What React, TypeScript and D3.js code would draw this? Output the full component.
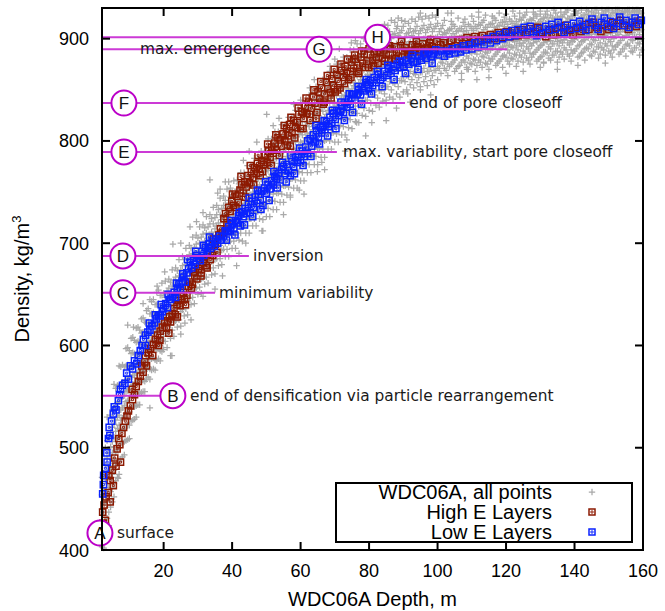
import React from 'react';
import * as d3 from 'd3';

const W = 665;
const H = 611;

// axis ticks
const xTicks = [20, 40, 60, 80, 100, 120, 140, 160];
const yTicks = [400, 500, 600, 700, 800, 900];

// WDC06A, all points: [depth m, densities kg/m3 at that depth]
const grayColumns: [number, number[]][] = [
  [2, [403, 408, 419, 429, 440, 454, 471]],
  [2.5, [402, 415, 426, 437, 447, 460, 475]],
  [3, [410, 425, 437, 448, 458, 469, 483, 500]],
  [3.5, [417, 431, 444, 455, 465, 476, 490, 507]],
  [4, [424, 437, 450, 461, 472, 482, 495, 510]],
  [4.5, [442, 457, 469, 480, 490, 501, 515, 532]],
  [5, [447, 461, 474, 485, 495, 506, 520, 537]],
  [5.5, [452, 465, 478, 489, 500, 510, 523, 538]],
  [6, [468, 483, 495, 506, 516, 527, 541, 558]],
  [6.5, [471, 485, 498, 509, 519, 530, 544, 561]],
  [7, [474, 487, 500, 511, 522, 532, 545, 560]],
  [7.5, [489, 504, 516, 527, 537, 548, 562, 579]],
  [8, [491, 505, 518, 529, 539, 550, 564, 581]],
  [8.5, [493, 506, 519, 530, 541, 551, 564, 579]],
  [9, [507, 522, 534, 545, 555, 566, 580, 597]],
  [9.5, [508, 522, 535, 546, 556, 567, 581, 598]],
  [10, [509, 522, 535, 546, 557, 567, 580, 595]],
  [10.5, [526, 540, 550, 560, 569, 579, 592, 607]],
  [11, [527, 540, 552, 562, 571, 581, 593, 608]],
  [11.5, [528, 540, 551, 561, 571, 580, 592, 605]],
  [12, [541, 554, 564, 573, 582, 591, 603, 617]],
  [12.5, [542, 554, 565, 574, 582, 592, 604, 618]],
  [13, [542, 553, 564, 574, 583, 591, 603, 615]],
  [13.5, [554, 566, 576, 584, 592, 601, 612, 626]],
  [14, [555, 566, 576, 585, 593, 602, 613, 627]],
  [14.5, [555, 565, 575, 584, 593, 601, 611, 623]],
  [15, [567, 578, 587, 596, 603, 611, 622, 634]],
  [15.5, [569, 579, 589, 597, 604, 612, 623, 636]],
  [16, [567, 577, 587, 595, 603, 610, 620, 631]],
  [16.5, [576, 587, 596, 605, 612, 620, 631, 643]],
  [17, [577, 588, 598, 606, 613, 622, 632, 645]],
  [17.5, [576, 586, 596, 604, 612, 619, 629, 640]],
  [18, [585, 596, 605, 614, 621, 629, 640, 652]],
  [18.5, [587, 597, 607, 615, 623, 631, 641, 654]],
  [19, [585, 595, 605, 613, 621, 628, 638, 649]],
  [19.5, [594, 605, 614, 623, 630, 638, 649, 661]],
  [20, [596, 609, 619, 629, 638, 651]],
  [20.5, [604, 617, 627, 636, 647, 663]],
  [21, [598, 612, 623, 632, 642, 653]],
  [21.5, [613, 626, 635, 645, 656, 665]],
  [22, [590, 607, 620, 630, 640, 649, 662]],
  [22.5, [615, 628, 638, 647, 658, 674]],
  [23, [609, 623, 634, 643, 653, 664]],
  [23.5, [624, 637, 646, 656, 667, 676]],
  [24, [618, 631, 641, 651, 660, 673]],
  [24.5, [625, 638, 648, 657, 668, 684]],
  [25, [619, 633, 644, 653, 663, 674, 700]],
  [25.5, [635, 648, 657, 667, 678, 687]],
  [26, [629, 642, 652, 662, 671, 684]],
  [26.5, [636, 649, 659, 668, 679, 695]],
  [27, [630, 644, 655, 664, 674, 685]],
  [27.5, [646, 659, 668, 678, 689, 698]],
  [28, [625, 640, 653, 663, 673, 682, 695]],
  [28.5, [647, 660, 670, 679, 690, 706]],
  [29, [641, 655, 666, 675, 685, 696]],
  [29.5, [656, 669, 678, 688, 699, 708]],
  [30, [650, 663, 673, 683, 692, 705]],
  [30.5, [657, 670, 680, 689, 700, 716]],
  [31, [651, 665, 676, 685, 695, 706]],
  [31.5, [666, 679, 688, 698, 709, 718, 730]],
  [32, [660, 673, 683, 693, 702, 715]],
  [32.5, [667, 680, 690, 699, 710, 726]],
  [33, [661, 675, 686, 695, 705, 716]],
  [33.5, [676, 689, 698, 708, 719, 728]],
  [34, [669, 682, 692, 702, 711, 724]],
  [34.5, [676, 689, 699, 708, 719, 735]],
  [35, [655, 670, 684, 695, 704, 714, 725]],
  [35.5, [685, 698, 707, 717, 728, 737]],
  [36, [678, 691, 701, 711, 720, 733]],
  [36.5, [685, 698, 708, 717, 728, 744]],
  [37, [679, 693, 704, 713, 723, 734]],
  [37.5, [694, 707, 716, 726, 737, 746]],
  [38, [687, 700, 710, 720, 729, 742, 760]],
  [38.5, [694, 707, 717, 726, 737, 753]],
  [39, [687, 701, 712, 721, 731, 742]],
  [39.5, [702, 715, 724, 734, 745, 754]],
  [40, [695, 708, 718, 728, 737, 750]],
  [40.5, [702, 715, 725, 734, 745, 761]],
  [41, [695, 709, 720, 729, 739, 750]],
  [41.5, [710, 723, 732, 742, 753, 762]],
  [42, [690, 703, 716, 726, 736, 745, 758]],
  [42.5, [710, 723, 733, 742, 753, 769]],
  [43, [702, 716, 727, 736, 746, 757]],
  [43.5, [717, 730, 739, 749, 760, 769]],
  [44, [710, 723, 733, 743, 752, 765]],
  [44.5, [717, 730, 740, 749, 760, 776]],
  [45, [710, 724, 735, 744, 754, 765, 790]],
  [45.5, [724, 737, 746, 756, 767, 776]],
  [46, [717, 730, 740, 750, 759, 772]],
  [46.5, [724, 737, 747, 756, 767, 783]],
  [47, [717, 731, 742, 751, 761, 772]],
  [47.5, [731, 744, 753, 763, 774, 783]],
  [48, [724, 737, 747, 757, 766, 779]],
  [48.5, [731, 744, 754, 763, 774, 790]],
  [49, [712, 723, 737, 748, 757, 767, 778]],
  [49.5, [738, 751, 760, 770, 781, 790]],
  [50, [726, 741, 753, 764, 775, 790]],
  [50.5, [734, 749, 761, 771, 784, 802]],
  [51, [726, 742, 754, 765, 776, 789]],
  [51.5, [742, 757, 767, 779, 791, 802]],
  [52, [733, 748, 760, 771, 782, 797, 815]],
  [52.5, [741, 756, 768, 778, 791, 809]],
  [53, [733, 749, 761, 772, 783, 796]],
  [53.5, [749, 764, 774, 786, 798, 809]],
  [54, [740, 755, 767, 778, 789, 804]],
  [54.5, [748, 763, 775, 785, 798, 816]],
  [55, [728, 740, 756, 768, 779, 790, 803]],
  [55.5, [756, 771, 781, 793, 805, 816]],
  [56, [747, 762, 774, 785, 796, 811]],
  [56.5, [755, 770, 782, 792, 805, 823]],
  [57, [747, 763, 775, 786, 797, 810]],
  [57.5, [763, 778, 788, 800, 812, 823]],
  [58, [754, 769, 781, 792, 803, 818, 836]],
  [58.5, [762, 777, 789, 799, 812, 830]],
  [59, [754, 770, 782, 793, 804, 817]],
  [59.5, [770, 785, 795, 807, 819, 830]],
  [60, [761, 776, 788, 799, 810, 825]],
  [60.5, [769, 784, 796, 806, 819, 837]],
  [61, [748, 761, 777, 789, 800, 811, 824]],
  [61.5, [778, 793, 803, 815, 827, 838]],
  [62, [769, 784, 796, 807, 818, 833]],
  [62.5, [777, 792, 804, 814, 827, 845]],
  [63, [769, 785, 797, 808, 819, 832]],
  [63.5, [786, 801, 811, 823, 835, 846]],
  [64, [777, 792, 804, 815, 826, 841, 860]],
  [64.5, [785, 800, 812, 822, 835, 853]],
  [65, [777, 793, 805, 816, 827, 840]],
  [65.5, [793, 808, 818, 830, 842, 853]],
  [66, [784, 799, 811, 822, 833, 848]],
  [66.5, [792, 807, 819, 829, 842, 860]],
  [67, [772, 784, 800, 812, 823, 834, 847]],
  [67.5, [801, 816, 826, 838, 850, 861]],
  [68, [792, 807, 819, 830, 841, 856]],
  [68.5, [800, 815, 827, 837, 850, 868]],
  [69, [792, 808, 820, 831, 842, 855]],
  [69.5, [808, 823, 833, 845, 857, 868]],
  [70, [799, 814, 826, 837, 848, 863, 880]],
  [70.5, [807, 822, 834, 844, 857, 875]],
  [71, [799, 815, 827, 838, 849, 862]],
  [71.5, [815, 830, 840, 852, 864, 875]],
  [72, [806, 821, 833, 844, 855, 870]],
  [72.5, [814, 829, 841, 851, 864, 882]],
  [73, [790, 806, 822, 834, 845, 856, 869]],
  [73.5, [822, 837, 847, 859, 871, 882]],
  [74, [813, 828, 840, 851, 862, 877]],
  [74.5, [821, 836, 848, 858, 871, 889]],
  [75, [812, 828, 840, 851, 862, 875]],
  [75.5, [829, 844, 854, 866, 878, 889]],
  [76, [819, 834, 846, 857, 868, 883, 898]],
  [76.5, [827, 842, 854, 864, 877, 895]],
  [77, [818, 834, 846, 857, 868, 881]],
  [77.5, [835, 850, 860, 872, 884, 895]],
  [78, [825, 840, 852, 863, 874, 889]],
  [78.5, [832, 847, 859, 869, 882, 900]],
  [79, [805, 824, 840, 852, 863, 874, 887]],
  [79.5, [840, 855, 865, 877, 889, 900]],
  [80, [830, 845, 857, 868, 879, 894]],
  [80.5, [837, 852, 864, 874, 887, 905]],
  [81, [829, 845, 857, 868, 879, 892]],
  [81.5, [845, 860, 870, 882, 894, 905]],
  [82, [835, 850, 862, 873, 884, 899, 908]],
  [82.5, [842, 857, 869, 879, 892, 910]],
  [83, [833, 849, 861, 872, 883, 896]],
  [83.5, [849, 864, 874, 886, 898, 909]],
  [84, [839, 854, 866, 877, 888, 903]],
  [84.5, [846, 861, 873, 883, 896, 914]],
  [85, [820, 837, 853, 865, 876, 887, 900]],
  [85.5, [853, 868, 878, 890, 902, 913]],
  [86, [843, 858, 870, 881, 892, 907]],
  [86.5, [850, 865, 877, 887, 900, 918]],
  [87, [841, 857, 869, 880, 891, 904]],
  [87.5, [856, 871, 881, 893, 905, 916]],
  [88, [832, 846, 861, 873, 884, 895, 910]],
  [88.5, [853, 868, 880, 890, 903, 920]],
  [89, [843, 859, 871, 882, 893, 906]],
  [89.5, [859, 874, 884, 896, 908, 918]],
  [90, [848, 863, 875, 886, 897, 912]],
  [90.5, [858, 871, 881, 890, 901, 917]],
  [91, [850, 864, 875, 884, 894, 905]],
  [91.5, [863, 876, 885, 895, 906, 915]],
  [92, [838, 855, 868, 878, 888, 897, 910]],
  [92.5, [860, 873, 883, 892, 903, 919]],
  [93, [852, 866, 877, 886, 896, 907]],
  [93.5, [865, 878, 887, 897, 908, 917]],
  [94, [857, 870, 880, 890, 899, 912]],
  [94.5, [862, 875, 885, 894, 905, 921]],
  [95, [850, 853, 867, 878, 887, 897, 908]],
  [95.5, [867, 880, 889, 899, 910, 919]],
  [96, [858, 871, 881, 891, 900, 913]],
  [96.5, [863, 876, 886, 895, 906, 922]],
  [97, [854, 868, 879, 888, 898, 909]],
  [97.5, [868, 881, 890, 900, 911, 920]],
  [98, [845, 859, 872, 882, 892, 901, 914]],
  [98.5, [864, 877, 887, 896, 907, 923]],
  [99, [855, 869, 880, 889, 899, 910]],
  [99.5, [869, 882, 891, 901, 912, 921]],
  [100, [860, 873, 883, 893, 902, 915]],
  [100.5, [871, 882, 890, 898, 907]],
  [101, [866, 877, 885, 893, 900, 910]],
  [101.5, [876, 888, 896, 904, 913]],
  [102, [871, 882, 890, 897, 906, 918]],
  [102.5, [869, 880, 889, 897, 905]],
  [103, [864, 875, 884, 891, 899, 908, 925]],
  [103.5, [873, 884, 892, 900, 909]],
  [104, [875, 886, 893, 901, 910, 917]],
  [104.5, [877, 889, 897, 905, 914]],
  [105, [868, 879, 887, 895, 902, 912]],
  [105.5, [871, 882, 891, 899, 907]],
  [106, [873, 884, 892, 899, 908, 920]],
  [106.5, [874, 885, 893, 901, 910]],
  [107, [860, 866, 877, 886, 893, 901, 910]],
  [107.5, [879, 891, 899, 907, 916]],
  [108, [877, 888, 895, 903, 912, 919]],
  [108.5, [872, 883, 892, 900, 908]],
  [109, [870, 881, 889, 897, 904, 914]],
  [109.5, [876, 887, 895, 903, 912]],
  [110, [875, 886, 894, 901, 910, 922]],
  [110.5, [880, 892, 900, 908, 917]],
  [111, [868, 879, 888, 895, 903, 912]],
  [111.5, [874, 885, 894, 902, 910]],
  [112, [879, 890, 897, 905, 914, 921, 926]],
  [112.5, [877, 888, 896, 904, 913]],
  [113, [872, 883, 891, 899, 906, 916]],
  [113.5, [882, 893, 901, 909, 918]],
  [114, [876, 887, 895, 902, 911, 923]],
  [114.5, [875, 886, 895, 903, 911]],
  [115, [862, 870, 881, 890, 897, 905, 914]],
  [115.5, [878, 889, 897, 905, 914]],
  [116, [880, 891, 898, 906, 915, 922]],
  [116.5, [883, 895, 903, 911, 920]],
  [117, [874, 885, 893, 901, 908, 918]],
  [117.5, [876, 887, 896, 904, 912]],
  [118, [878, 889, 897, 904, 913, 925]],
  [118.5, [880, 891, 899, 907, 916]],
  [119, [872, 883, 892, 899, 907, 916]],
  [119.5, [884, 896, 904, 912, 921]],
  [120, [866, 882, 893, 900, 908, 917, 924]],
  [120.5, [878, 889, 898, 906, 914]],
  [121, [875, 886, 894, 902, 909, 919]],
  [121.5, [881, 892, 900, 908, 917]],
  [122, [880, 891, 899, 906, 915, 927]],
  [122.5, [885, 897, 905, 913, 922]],
  [123, [873, 884, 893, 900, 908, 917]],
  [123.5, [878, 889, 898, 906, 914]],
  [124, [884, 895, 902, 910, 919, 925]],
  [124.5, [882, 893, 901, 909, 918]],
  [125, [868, 877, 888, 896, 904, 911, 921]],
  [125.5, [886, 898, 906, 914, 923]],
  [126, [881, 892, 900, 907, 916, 926]],
  [126.5, [879, 890, 899, 907, 915]],
  [127, [875, 886, 895, 902, 910, 919]],
  [127.5, [882, 893, 901, 909, 918]],
  [128, [885, 896, 903, 911, 920, 926]],
  [128.5, [887, 899, 907, 915, 924]],
  [129, [878, 889, 897, 905, 912, 922]],
  [129.5, [880, 891, 900, 908, 916]],
  [130, [872, 882, 893, 901, 908, 917, 927]],
  [130.5, [883, 894, 902, 910, 919]],
  [131, [876, 887, 896, 903, 911, 920]],
  [131.5, [887, 899, 907, 915, 924]],
  [132, [886, 897, 904, 912, 921, 927]],
  [132.5, [881, 892, 901, 909, 917]],
  [133, [879, 890, 898, 906, 913, 923]],
  [133.5, [884, 895, 903, 911, 920]],
  [134, [884, 895, 903, 910, 919, 928]],
  [134.5, [888, 900, 908, 916, 925]],
  [135, [870, 877, 888, 897, 904, 912, 921]],
  [135.5, [882, 893, 902, 910, 918]],
  [136, [887, 898, 905, 913, 922, 926]],
  [136.5, [885, 896, 904, 912, 921]],
  [137, [880, 891, 899, 907, 914, 924]],
  [137.5, [889, 901, 909, 917, 926]],
  [138, [885, 896, 904, 911, 920, 928]],
  [138.5, [883, 894, 903, 911, 919]],
  [139, [878, 889, 898, 905, 913, 922]],
  [139.5, [886, 897, 905, 913, 922]],
  [140, [888, 899, 906, 914, 923, 927]],
  [140.5, [890, 902, 910, 918, 927]],
  [141, [874, 882, 893, 901, 909, 916, 925]],
  [141.5, [883, 894, 903, 911, 919]],
  [142, [886, 897, 905, 912, 921, 928]],
  [142.5, [887, 898, 906, 914, 923]],
  [143, [879, 890, 899, 906, 914, 923]],
  [143.5, [891, 903, 911, 919, 928]],
  [144, [890, 901, 908, 916, 924, 927]],
  [144.5, [884, 895, 904, 912, 920]],
  [145, [883, 894, 902, 910, 917, 926]],
  [145.5, [888, 899, 907, 915, 924]],
  [146, [887, 898, 906, 913, 922, 928]],
  [146.5, [892, 904, 912, 920, 928]],
  [147, [881, 892, 901, 908, 916, 925]],
  [147.5, [885, 896, 905, 913, 921]],
  [148, [891, 902, 909, 917, 925, 928]],
  [148.5, [889, 900, 908, 916, 925]],
  [149, [876, 884, 895, 903, 911, 918, 927]],
  [149.5, [893, 905, 913, 921, 928]],
  [150, [888, 899, 907, 914, 923, 928]],
  [150.5, [886, 897, 906, 914, 922]],
  [151, [882, 893, 902, 909, 917, 926]],
  [151.5, [889, 900, 908, 916, 925]],
  [152, [892, 903, 910, 918, 926, 928]],
  [152.5, [894, 906, 914, 922, 928]],
  [153, [885, 896, 904, 912, 919, 928]],
  [153.5, [887, 898, 907, 915, 923]],
  [154, [890, 901, 909, 916, 925, 927]],
  [154.5, [890, 901, 909, 917, 926]],
  [155, [883, 894, 903, 910, 918, 927]],
  [155.5, [895, 907, 915, 923, 928]],
  [156, [893, 904, 911, 919, 926, 928]],
  [156.5, [888, 899, 908, 916, 924]],
  [157, [887, 898, 906, 914, 921, 928]],
  [157.5, [891, 902, 910, 918, 927]],
  [158, [891, 902, 910, 917, 926, 928]],
  [158.5, [896, 908, 916, 924, 928]],
  [159, [884, 895, 904, 911, 919, 927]],
  [159.5, [889, 900, 909, 917, 925]],
];

// scattered gray points away from the band: [depth, density]
const grayOutliers: [number, number][] = [
  [16, 539], [22.4, 590], [9.5, 620], [14, 641], [5.5, 562], [25, 611], [22.7, 699], [27.7, 716],
  [16, 645], [41.3, 678], [31.5, 648], [47.2, 799], [50.1, 826], [33.5, 762], [36.5, 753], [31.5, 730],
  [73.5, 801], [76.4, 818], [62.7, 852], [68.6, 873], [111.5, 860], [108.6, 870], [113, 872], [131, 877],
  [130, 924], [12, 530], [19, 600], [3.5, 530], [7, 580], [44, 700], [57, 745], [85, 840], [95, 925],
  [104, 925], [60, 840], [39, 760], [20.3, 672], [26.2, 622], [29.6, 721], [37.2, 668], [43.3, 781],
  [53.7, 822], [59.6, 752], [66.2, 779], [71.3, 890], [80.8, 818], [88.3, 912], [91.3, 846],
  [18.1, 658], [11.2, 618], [6.7, 470], [35.8, 749], [48.7, 712], [64.9, 770], [74.8, 896],
];

// High E Layers: [depth, density]
const highE: [number, number][] = [
  [2.0, 418], [2.3, 426], [3.0, 429], [2.2, 437], [2.6, 444], [4.4, 447], [3.2, 452], [3.8, 456], [5.3, 463],
  [4.4, 468], [4.0, 473], [5.0, 478], [6.1, 482], [7.4, 486], [5.7, 490], [6.4, 499], [7.2, 503], [6.9, 509],
  [7.8, 514], [8.3, 520], [8.8, 526], [9.3, 531], [9.7, 536], [10.3, 541], [10.9, 547], [10.8, 557], [11.5, 552],
  [12.0, 560], [12.6, 565], [13.2, 570], [14.0, 574], [13.6, 580], [14.5, 584], [14.7, 590], [15.6, 593],
  [16.2, 597], [17.0, 601], [18.5, 600], [17.6, 606], [18.2, 610], [19.0, 614], [19.6, 618], [20.3, 622],
  [20.8, 617], [21.2, 624], [21.7, 628], [22.0, 623], [22.5, 631], [23.0, 636], [23.4, 630], [23.9, 640],
  [24.3, 644], [24.8, 639], [25.2, 648], [25.7, 652], [26.1, 645], [26.8, 649], [27.2, 658], [27.6, 662],
  [28.1, 656], [28.7, 672], [29.1, 668], [29.7, 665], [30.2, 675], [30.6, 679], [31.0, 671], [31.5, 681],
  [32.0, 684], [32.4, 678], [32.9, 689], [33.6, 684], [34.0, 695], [34.6, 704], [35.1, 699], [35.6, 691],
  [36.1, 708], [36.6, 714], [37.1, 710],
  [15.0, 580], [16.8, 590], [18.9, 605], [21.5, 612], [24.0, 628], [26.4, 640], [28.4, 660], [30.9, 668],
  [32.7, 676], [34.3, 688],
  [37.6, 724], [38.1, 729], [38.5, 720], [39.0, 735], [39.4, 731], [39.9, 741], [40.4, 737], [40.9, 748],
  [41.4, 746], [41.8, 740], [42.3, 752], [42.8, 757], [43.2, 749], [43.7, 760], [44.1, 755], [44.6, 766],
  [45.1, 759], [45.6, 770], [46.0, 764], [46.5, 774], [47.0, 768], [47.4, 778], [47.9, 773], [48.2, 766],
  [48.7, 781], [49.2, 777], [49.7, 786], [50.2, 779], [50.6, 790], [51.1, 784], [51.6, 794], [52.0, 788],
  [52.5, 798], [53.0, 791], [53.4, 803], [54.0, 801], [54.4, 795], [54.9, 807], [55.4, 800], [55.9, 812],
  [56.3, 805], [56.8, 816], [57.0, 795], [57.5, 808], [58.0, 820], [58.5, 813], [59.0, 818], [59.5, 826],
  [60.0, 812], [60.4, 829], [60.9, 822], [61.4, 834], [61.8, 827], [62.3, 838], [62.8, 820], [63.2, 832],
  [63.7, 843], [64.2, 837], [64.8, 828], [65.1, 848], [65.6, 841], [66.1, 852], [66.6, 836], [67.0, 846],
  [67.5, 857], [68.0, 851], [68.7, 847], [69.1, 861], [69.6, 854], [70.1, 848], [70.6, 865], [71.0, 858],
  [71.5, 852], [72.0, 869], [72.5, 862], [73.0, 873], [73.4, 866], [74.0, 860], [74.5, 868], [75.0, 877],
  [75.5, 871], [76.0, 880], [76.5, 874], [77.0, 866], [77.6, 882], [78.1, 876], [78.6, 885], [79.4, 878],
  [79.9, 872],
  [38.8, 712], [40.1, 748], [41.1, 735], [42.6, 765], [43.9, 745], [45.3, 776], [46.3, 757], [47.6, 786],
  [48.9, 770], [50.4, 797], [51.4, 776], [52.8, 806], [53.8, 786], [55.2, 815], [56.1, 796], [57.2, 823],
  [58.3, 803], [59.3, 832], [60.7, 812], [61.6, 842], [62.6, 826], [63.9, 850], [64.5, 822], [65.9, 858],
  [66.9, 838], [67.8, 864], [68.9, 842], [69.8, 870], [70.8, 850], [71.8, 875], [72.8, 856], [73.7, 880],
  [74.7, 862], [75.8, 884], [76.8, 868], [77.8, 888], [78.9, 872], [80.0, 890], [81.3, 874], [82.9, 891],
  [84.6, 878], [86.0, 893], [87.8, 880], [89.5, 897], [91.5, 884], [93.8, 897], [96.0, 886], [98.0, 899],
  [80.4, 884], [81.0, 879], [81.5, 887], [82.1, 882], [82.6, 876], [83.2, 886], [83.8, 881], [84.3, 889],
  [85.0, 885], [85.6, 880], [86.2, 890], [86.8, 884], [87.4, 892], [88.0, 887], [88.6, 883], [89.2, 893],
  [89.8, 888], [90.5, 891], [91.2, 886], [92.0, 888], [92.7, 894], [93.4, 889], [94.1, 892], [94.8, 887],
  [95.6, 895], [96.3, 890], [97.0, 891], [97.7, 896], [98.4, 892], [99.1, 889], [99.8, 897], [100.8, 894],
  [101.8, 896], [102.9, 891], [104.0, 898], [105.1, 893], [106.3, 899], [107.4, 895], [108.6, 901], [109.7, 896],
  [110.9, 902], [112.0, 897], [113.1, 903], [114.3, 899], [115.4, 904], [116.6, 900], [117.7, 906], [118.9, 901],
  [120.1, 907], [121.2, 902], [122.4, 908], [123.5, 903], [124.7, 909], [125.8, 904], [127.0, 910], [128.1, 905],
  [129.3, 911], [130.4, 906], [131.6, 902], [132.7, 909], [133.9, 904], [135.0, 911], [136.2, 906], [137.3, 913],
  [138.5, 908], [139.6, 904], [140.8, 911], [141.9, 907], [143.1, 914], [144.2, 909], [145.4, 916], [146.5, 911],
  [147.7, 907], [148.8, 914], [150.0, 909], [151.1, 916], [152.3, 912], [153.4, 918], [154.6, 913], [155.7, 909],
  [156.9, 916], [158.0, 912], [159.2, 918],
];

// Low E Layers: [depth, density]
const lowE: [number, number][] = [
  [2.2, 455], [2.5, 473], [2.4, 464], [3.0, 480], [3.5, 486], [3.4, 495], [3.9, 509], [4.3, 512], [4.1, 520],
  [4.8, 526], [5.3, 533], [5.6, 540], [6.1, 537], [6.8, 546], [7.4, 557], [7.1, 552], [8.0, 561], [8.7, 563],
  [9.7, 567], [9.2, 573], [10.3, 580], [10.9, 577], [11.5, 585], [12.2, 582], [12.6, 590], [13.7, 600],
  [13.2, 595], [14.7, 600], [14.1, 606], [14.7, 610], [15.4, 613], [16.0, 615], [16.6, 619], [17.3, 622],
  [17.9, 626], [18.5, 629], [19.0, 629], [19.6, 633], [20.0, 636],
  [20.6, 641], [21.1, 637], [21.6, 645], [22.0, 645], [22.6, 648], [23.1, 652], [23.5, 647], [24.0, 656],
  [24.5, 660], [24.9, 655], [25.4, 663], [25.9, 667], [26.3, 662], [26.8, 671], [27.3, 675], [27.8, 681],
  [28.2, 676], [28.7, 683], [29.2, 679], [29.7, 688], [30.2, 685], [30.7, 683], [31.2, 692], [31.7, 688],
  [32.2, 696], [32.7, 691], [33.2, 699], [33.7, 695], [34.2, 702],
  [15.8, 622], [17.6, 630], [19.3, 640], [21.3, 650], [23.8, 661], [25.6, 670], [27.0, 684], [29.4, 692],
  [31.6, 698], [33.4, 706],
  [34.8, 697], [35.3, 704], [35.8, 700], [36.3, 707], [36.8, 703], [37.5, 707], [38.0, 712], [38.5, 711],
  [39.0, 716], [39.5, 712], [40.0, 719], [40.5, 715], [41.0, 722], [41.4, 720], [41.9, 727], [42.4, 717],
  [42.9, 731], [43.3, 726], [43.8, 734], [44.3, 729], [44.8, 738], [45.3, 730], [45.8, 741], [46.2, 735],
  [46.7, 745], [47.2, 739], [47.7, 748], [48.2, 742], [48.6, 751], [49.0, 737], [49.5, 754], [50.0, 749],
  [50.5, 757], [51.0, 753], [51.5, 761], [52.0, 757], [52.5, 765], [53.0, 763], [53.5, 768], [54.0, 762],
  [54.5, 772], [55.0, 775], [55.5, 768], [56.0, 777], [56.5, 771], [57.0, 766], [57.5, 780], [58.0, 775],
  [58.5, 784], [59.0, 779], [59.5, 787], [60.0, 781], [60.5, 790], [61.0, 785], [61.5, 794], [62.0, 788],
  [62.8, 802], [63.2, 795], [63.7, 806], [64.2, 799], [64.7, 810], [65.2, 804], [65.8, 813], [66.2, 808],
  [66.6, 815], [67.1, 811], [67.6, 819], [68.1, 814], [68.6, 823], [69.1, 817], [69.6, 827], [70.1, 821],
  [70.6, 830], [71.1, 825], [71.6, 829], [72.1, 834], [72.5, 828], [73.0, 838], [73.5, 833], [74.0, 841],
  [74.5, 836], [75.0, 845], [75.4, 845], [75.9, 840], [76.5, 846], [77.0, 850], [77.5, 845], [78.0, 853],
  [78.5, 849], [79.0, 857], [79.4, 855], [79.9, 851], [80.4, 859], [81.0, 854], [81.5, 862], [82.1, 857],
  [82.7, 865], [83.3, 860], [84.0, 862], [84.6, 868], [85.2, 864], [85.8, 871], [86.4, 866], [87.0, 873],
  [87.6, 869], [88.2, 875], [89.0, 872], [89.6, 877], [90.2, 873], [90.9, 879], [91.6, 875], [92.3, 881],
  [93.0, 877], [94.0, 878], [94.6, 883], [95.3, 879], [96.0, 885], [96.7, 881], [97.4, 887], [98.1, 883],
  [98.8, 885], [99.5, 889],
  [38.3, 703], [39.7, 722], [40.8, 708], [42.1, 730], [43.6, 718], [45.0, 744], [46.0, 726], [47.4, 752],
  [48.4, 733], [49.8, 760], [50.8, 742], [52.2, 770], [53.2, 754], [54.7, 779], [55.8, 760], [57.2, 786],
  [58.2, 768], [59.7, 793], [60.7, 776], [62.1, 800], [63.0, 785], [64.5, 815], [65.5, 797], [66.9, 820],
  [67.9, 805], [69.3, 830], [70.3, 812], [71.8, 838], [72.8, 820], [74.2, 846], [75.2, 828], [76.8, 853],
  [77.8, 836], [79.2, 860], [80.7, 846], [82.4, 868], [83.8, 853], [85.5, 874], [87.3, 860], [88.9, 878],
  [90.6, 866], [92.6, 884], [94.3, 870], [96.4, 887], [98.4, 876],
  [100.3, 884], [101.2, 888], [102.0, 883], [102.7, 888], [103.5, 885], [104.3, 890], [105.1, 886], [105.9, 891],
  [106.7, 887], [107.5, 893], [108.3, 889], [109.2, 894], [110.0, 890], [110.9, 896], [111.8, 892], [112.7, 898],
  [113.6, 894], [114.5, 900], [115.4, 896], [116.3, 902], [117.2, 898], [118.1, 904], [119.0, 900], [119.9, 906],
  [120.8, 902], [121.7, 908], [122.6, 903], [123.5, 909], [124.4, 905], [125.3, 911], [126.2, 906], [127.1, 912],
  [128.0, 907], [128.9, 903], [129.8, 910], [130.7, 905], [131.6, 912], [132.5, 908], [133.4, 914], [134.3, 909],
  [135.2, 916], [136.1, 911], [137.0, 906], [137.9, 913], [138.8, 909], [139.7, 915], [140.6, 910], [141.5, 917],
  [142.4, 912], [143.3, 908], [144.2, 915], [145.1, 919], [146.0, 913], [146.9, 909], [147.8, 916], [148.7, 920],
  [149.6, 912], [150.5, 917], [151.4, 910], [152.3, 915], [153.2, 921], [154.1, 913], [155.0, 918], [155.9, 911],
  [156.8, 916], [157.7, 920], [158.6, 914], [159.5, 918],
];

// annotation markers
const markerLetters = ['A', 'B', 'C', 'D', 'E', 'F', 'G', 'H'];
const markerDensity = [416.6, 550.9, 651.6, 687.5, 789.2, 837.1, 889.6, 901.3];
const markerDepth = [1.4, 22.7, 8.1, 8.1, 8.4, 8.4, 65.4, 82.5];
const lineEnd: (number | null)[] = [null, 22.7, 35.0, 44.9, 70.6, 90.5, 120.3, 159.7];
const labelTexts = [
  'surface',
  'end of densification via particle rearrangement',
  'minimum variability',
  'inversion',
  'max. variability, start pore closeoff',
  'end of pore closeoff',
  'max. emergence',
  '',
];
const labelDepth = [6.4, 27.7, 36.2, 46.1, 72.4, 91.7, 13.1, 0];

const legendNames = ['WDC06A, all points', 'High E Layers', 'Low E Layers'];

const NUM_FONT = "'Liberation Sans', Arial, Helvetica, sans-serif";
const LABEL_FONT = "'DejaVu Sans', Verdana, sans-serif";
const GRAY = '#a9a9a9';
const RED = '#8c1a02';
const BLUE = '#0a22ff';
const MAG_LINE = '#cc3ad6';
const MAG_CIRCLE = '#bb00c8';

export default function App() {
  const left = 102, right = 643, top = 8, bottom = 550;
  const x = d3.scaleLinear().domain([2, 160]).range([left, right]);
  const y = d3.scaleLinear().domain([400, 930]).range([bottom, top]);

  const grayPts: [number, number][] = [
    ...grayColumns.flatMap(([d, vals]) => vals.map((v) => [d, v] as [number, number])),
    ...grayOutliers,
  ];

  const cross = (px: number, py: number, s: number) =>
    `M${(px - s).toFixed(1)},${py.toFixed(1)}h${2 * s}M${px.toFixed(1)},${(py - s).toFixed(1)}v${2 * s}`;
  const sq = (px: number, py: number, s: number) =>
    `M${(px - s).toFixed(1)},${(py - s).toFixed(1)}h${2 * s}v${2 * s}h${-2 * s}Z`;

  const grayPath = grayPts.map(([d, r]) => cross(x(d), y(r), 3.2)).join('');
  const sqOuter = (pts: [number, number][]) => pts.map(([d, r]) => sq(x(d), y(r), 3.1)).join('');
  const sqInner = (pts: [number, number][]) => pts.map(([d, r]) => sq(x(d), y(r), 1)).join('');

  const tickLen = 8;
  const legendX = 336, legendY = 483, legendW = 296, legendH = 59;
  const legendRows = [492, 512, 532];

  return (
    <div style={{ position: 'absolute', left: 0, top: 0 }}>
      <svg width={W} height={H} viewBox={`0 0 ${W} ${H}`} style={{ display: 'block', background: '#fff' }}>
        <rect x={0} y={0} width={W} height={H} fill="#fff" />

        {/* data */}
        <path d={grayPath} stroke={GRAY} strokeWidth={1.25} fill="none" />
        <path d={sqOuter(highE)} stroke={RED} strokeWidth={1.5} fill="none" />
        <path d={sqInner(highE)} stroke={RED} strokeWidth={0.9} fill="none" />
        <path d={sqOuter(lowE)} stroke={BLUE} strokeWidth={1.5} fill="none" />
        <path d={sqInner(lowE)} stroke={BLUE} strokeWidth={0.9} fill="none" />

        {/* annotation lines */}
        {markerLetters.map((m, i) =>
          lineEnd[i] == null ? null : (
            <line
              key={`l${m}`}
              x1={x(2)}
              x2={x(lineEnd[i] as number)}
              y1={y(markerDensity[i])}
              y2={y(markerDensity[i])}
              stroke={MAG_LINE}
              strokeWidth={2}
            />
          )
        )}

        {/* annotation texts */}
        {markerLetters.map((m, i) =>
          labelTexts[i] ? (
            <text
              key={`t${m}`}
              x={x(labelDepth[i])}
              y={y(markerDensity[i]) + 5}
              fontFamily={LABEL_FONT}
              fontSize={15.4}
              fill="#1a1a1a"
            >
              {labelTexts[i]}
            </text>
          ) : null
        )}

        {/* circles */}
        {markerLetters.map((m, i) => (
          <g key={`c${m}`}>
            <circle cx={x(markerDepth[i])} cy={y(markerDensity[i])} r={12.5} fill="#fff" stroke={MAG_CIRCLE} strokeWidth={2} />
            <text
              x={x(markerDepth[i])}
              y={y(markerDensity[i]) + 6}
              textAnchor="middle"
              fontFamily={NUM_FONT}
              fontSize={17}
              fill="#111"
            >
              {m}
            </text>
          </g>
        ))}

        {/* frame */}
        <rect x={left} y={top} width={right - left} height={bottom - top} fill="none" stroke="#000" strokeWidth={2} />

        {/* ticks */}
        {xTicks.map((t) => (
          <g key={`xt${t}`}>
            <line x1={x(t)} x2={x(t)} y1={bottom} y2={bottom - tickLen} stroke="#000" strokeWidth={2} />
            <line x1={x(t)} x2={x(t)} y1={top} y2={top + tickLen} stroke="#000" strokeWidth={2} />
            <text x={x(t)} y={577} textAnchor="middle" fontFamily={NUM_FONT} fontSize={18} fill="#000">
              {t}
            </text>
          </g>
        ))}
        {yTicks.map((t) => (
          <g key={`yt${t}`}>
            <line x1={left} x2={left + tickLen} y1={y(t)} y2={y(t)} stroke="#000" strokeWidth={2} />
            <line x1={right} x2={right - tickLen} y1={y(t)} y2={y(t)} stroke="#000" strokeWidth={2} />
            <text x={89} y={y(t) + 6.5} textAnchor="end" fontFamily={NUM_FONT} fontSize={18} fill="#000">
              {t}
            </text>
          </g>
        ))}

        {/* axis titles */}
        <text x={(left + right) / 2} y={606} textAnchor="middle" fontFamily={NUM_FONT} fontSize={20} fill="#000">
          WDC06A Depth, m
        </text>
        <text
          transform={`translate(29,${(top + bottom) / 2}) rotate(-90)`}
          textAnchor="middle"
          fontFamily={NUM_FONT}
          fontSize={20}
          fill="#000"
        >
          Density, kg/m<tspan fontSize={13} dy={-8}>3</tspan>
        </text>

        {/* legend */}
        <rect x={legendX} y={legendY} width={legendW} height={legendH} fill="#fff" stroke="#000" strokeWidth={2} />
        {legendNames.map((n, i) => (
          <text key={n} x={552} y={legendRows[i] + 7} textAnchor="end" fontFamily={NUM_FONT} fontSize={20} fill="#000">
            {n}
          </text>
        ))}
        <path d={cross(592, legendRows[0], 3.2)} stroke={GRAY} strokeWidth={1.25} fill="none" />
        <path d={sq(592, legendRows[1], 3)} stroke={RED} strokeWidth={1.5} fill="none" />
        <path d={sq(592, legendRows[1], 1)} stroke={RED} strokeWidth={0.9} fill="none" />
        <path d={sq(592, legendRows[2], 3)} stroke={BLUE} strokeWidth={1.5} fill="none" />
        <path d={sq(592, legendRows[2], 1)} stroke={BLUE} strokeWidth={0.9} fill="none" />
      </svg>
    </div>
  );
}
